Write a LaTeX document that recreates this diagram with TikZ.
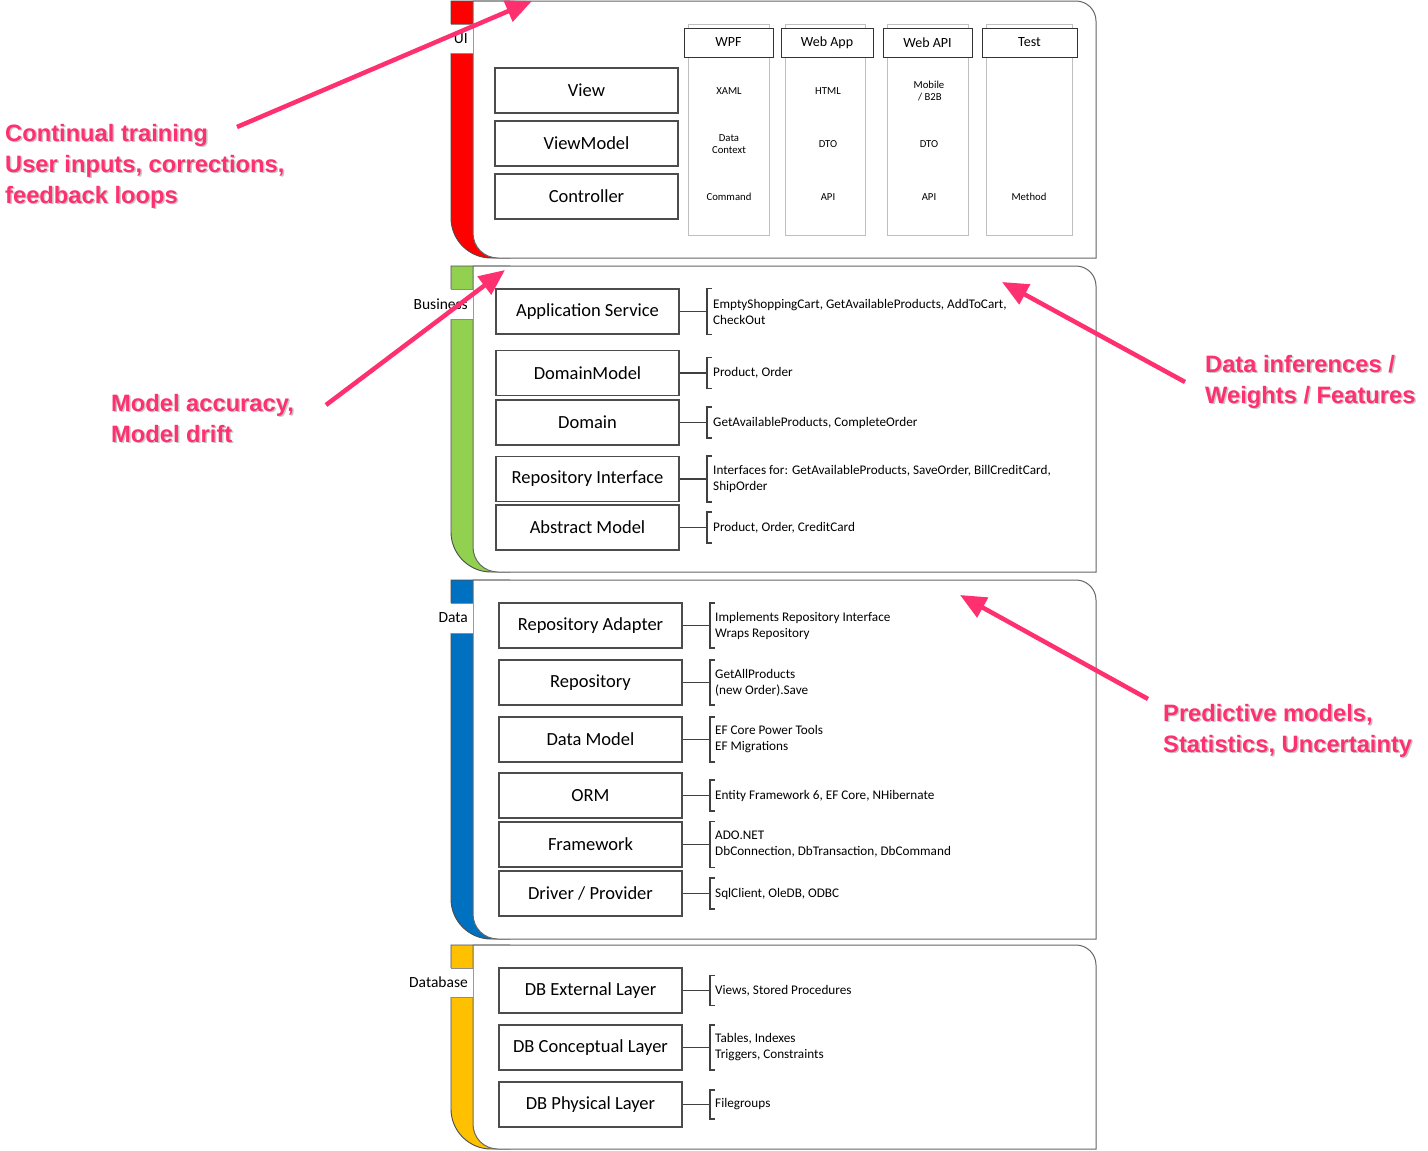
\documentclass[tikz,border=0pt]{standalone}
\usepackage{fontspec}
\setmainfont{Carlito}
\newfontfamily\annot{Liberation Sans}
\usetikzlibrary{arrows.meta}
\definecolor{uired}{RGB}{255,0,0}
\definecolor{bgreen}{RGB}{146,208,80}
\definecolor{dblue}{RGB}{0,112,192}
\definecolor{dbyel}{RGB}{255,192,0}
\definecolor{notepink}{RGB}{255,48,112}
\tikzset{
 lbox/.style={draw=black!70, line width=1.1pt, fill=white, minimum width=183pt, minimum height=45pt, inner sep=0pt, font=\fontsize{18.5}{20}\selectfont},
 brk/.style={anchor=west, minimum width=5pt, inner sep=0pt, outer sep=0pt},
 conn/.style={draw=black!75, line width=1.1pt},
 dtext/.style={anchor=west, inner sep=0pt, align=left, font=\fontsize{13.2}{16}\selectfont},
 lbl/.style={anchor=east, inner sep=0pt, font=\fontsize{15.5}{17}\selectfont},
 hdr/.style={draw=black!80, line width=1pt, fill=white, minimum height=29pt, inner sep=0pt, font=\fontsize{14}{16}\selectfont},
 colbody/.style={draw=black!25, line width=1pt, fill=white},
 ctext/.style={align=center, inner sep=0pt, font=\fontsize{10.7}{12}\selectfont},
 note/.style={anchor=base west, inner sep=0pt, text=notepink, font=\annot\bfseries\fontsize{23.7}{31}\selectfont},
 shad/.style={note, text=black, opacity=0.22},
 parrow/.style={draw=notepink, line width=4.5pt, -{Triangle[length=26pt,width=22pt]}},
 panel/.style={fill=white, draw=black!60, line width=1pt},
}
\newcommand\layerpanel[7]{%
 \filldraw[fill=#1, draw=black!70, line width=0.9pt] (451,#2) -- (510,#2) -- (510,#3) -- (491,#3) .. controls (469,#3) and (451,#3-18) .. (451,#3-40) -- cycle;
 \draw[panel] (473,#2) -- (1076,#2) .. controls (1087,#2) and (1096,#2+9) .. (1096,#2+20) -- (1096,#3) -- (498,#3) .. controls (484,#3) and (473,#3-11) .. (473,#3-25) -- cycle;
 \fill[white] (450.4,#4) rectangle (472.5,#5);
 \draw[black!45, line width=0.6pt] (451,#4) -- (473,#4) (451,#5) -- (473,#5);
 \node[lbl] (#7) at (468,{(#4+#5)/2}) {#6};
}
\newcommand\drow[8]{%
 \node[lbox] (#1) at (#2,#3) {#4};
 \node[brk, minimum height=#6pt] (#1b) at (#5,#3) {};
 \draw[conn] (#1.east) -- (#1b.west);
 \draw[conn] (#1b.north east) -- (#1b.north west) -- (#1b.south west) -- (#1b.south east);
 \node[dtext] (#1t) at ([xshift=#7pt]#1b.west) {#8};
}
\begin{document}
\begin{tikzpicture}[x=1pt,y=-1pt]
\useasboundingbox (0,0) rectangle (1428,1151);
\fill[white] (0,0) rectangle (1428,1151);

% ---------- layers ----------
\layerpanel{uired}{1}{258}{24}{53}{UI}{lui}
\layerpanel{bgreen}{266}{572}{289}{319}{Business}{lbus}
\layerpanel{dblue}{580}{939}{603}{633}{Data}{ldata}
\layerpanel{dbyel}{945}{1149}{968}{997}{Database}{ldb}

% ---------- UI ----------
\node[lbox] (view) at (586.5,90.5) {View};
\node[lbox] (vm) at (586.5,143.5) {ViewModel};
\node[lbox] (ctrl) at (586.5,196.5) {Controller};

\draw[colbody] (688,24) rectangle (769,235);
\draw[colbody] (785,24) rectangle (865,235);
\draw[colbody] (887,24) rectangle (968,235);
\draw[colbody] (986,24) rectangle (1072,235);
\node[hdr, minimum width=89pt] (wpf) at (728.5,42.5) {WPF};
\node[hdr, minimum width=92pt] (webapp) at (827,42.5) {Web App};
\node[hdr, minimum width=89pt] (webapi) at (927.5,42.5) {Web API};
\node[hdr, minimum width=95pt] (test) at (1029.5,42.5) {Test};

\node[ctext] (c11) at (729,91) {XAML};
\node[ctext] (c12) at (729,144) {Data\\Context};
\node[ctext] (c13) at (729,197) {Command};
\node[ctext] (c21) at (828,91) {HTML};
\node[ctext] (c22) at (828,144) {DTO};
\node[ctext] (c23) at (828,197) {API};
\node[ctext] (c31) at (929,91) {Mobile\\\,/ B2B};
\node[ctext] (c32) at (929,144) {DTO};
\node[ctext] (c33) at (929,197) {API};
\node[ctext] (c43) at (1029,197) {Method};

% ---------- Business ----------
\drow{appsvc}{587.5}{311.5}{Application Service}{707}{46}{6}{EmptyShoppingCart, GetAvailableProducts, AddToCart,\\CheckOut}
\drow{dommodel}{587.5}{373}{DomainModel}{707}{31}{6}{Product, Order}
\drow{domain}{587.5}{422.5}{Domain}{707}{31}{6}{GetAvailableProducts, CompleteOrder}
\drow{repoif}{587.5}{479}{Repository Interface}{707}{46}{6}{Interfaces for: GetAvailableProducts, SaveOrder, BillCreditCard,\\ShipOrder}
\drow{absmodel}{587.5}{527.5}{Abstract Model}{707}{31}{6}{Product, Order, CreditCard}

% ---------- Data ----------
\drow{repoad}{590.5}{625.5}{Repository Adapter}{710}{45}{5}{Implements Repository Interface\\Wraps Repository}
\drow{repo}{590.5}{682.5}{Repository}{710}{45}{5}{GetAllProducts\\(new Order).Save}
\drow{datamodel}{590.5}{739.5}{Data Model}{710}{45}{5}{EF Core Power Tools\\EF Migrations}
\drow{orm}{590.5}{795.5}{ORM}{710}{31}{5}{Entity Framework 6, EF Core, NHibernate}
\drow{framework}{590.5}{844.5}{Framework}{710}{46}{5}{ADO.NET\\DbConnection, DbTransaction, DbCommand}
\drow{driver}{590.5}{893.5}{Driver / Provider}{710}{31}{5}{SqlClient, OleDB, ODBC}

% ---------- Database ----------
\drow{dbext}{590.5}{990.5}{DB External Layer}{710}{30}{5}{Views, Stored Procedures}
\drow{dbcon}{590.5}{1047.5}{DB Conceptual Layer}{710}{45}{5}{Tables, Indexes\\Triggers, Constraints}
\drow{dbphys}{590.5}{1104.5}{DB Physical Layer}{710}{29}{5}{Filegroups}

% ---------- annotations ----------
\coordinate (a1s) at (237,127);
\coordinate (a1e) at (532,1);
\coordinate (a2s) at (326,405);
\coordinate (a2e) at (505,270);
\coordinate (a3s) at (1185,382);
\coordinate (a3e) at (1002,282);
\coordinate (a4s) at (1148,699);
\coordinate (a4e) at (960,595);
\draw[parrow] (a1s) -- (a1e);
\draw[parrow] (a2s) -- (a2e);
\draw[parrow] (a3s) -- (a3e);
\draw[parrow] (a4s) -- (a4e);

\node[shad] (s1) at (6.5,142.8) {Continual training};
\node[shad] (s2) at (6.5,173.8) {User inputs, corrections,};
\node[shad] (s3) at (6.5,204.8) {feedback loops};
\node[note] (n1) at (5,141) {Continual training};
\node[note] (n2) at (5,172) {User inputs, corrections,};
\node[note] (n3) at (5,203) {feedback loops};

\node[shad] (s4) at (112.5,412.8) {Model accuracy,};
\node[shad] (s5) at (112.5,443.8) {Model drift};
\node[note] (n4) at (111,411) {Model accuracy,};
\node[note] (n5) at (111,442) {Model drift};

\node[shad] (s6) at (1206.5,373.8) {Data inferences /};
\node[shad] (s7) at (1206.5,404.8) {Weights / Features};
\node[note] (n6) at (1205,372) {Data inferences /};
\node[note] (n7) at (1205,403) {Weights / Features};

\node[shad] (s8) at (1164.5,722.8) {Predictive models,};
\node[shad] (s9) at (1164.5,753.8) {Statistics, Uncertainty};
\node[note] (n8) at (1163,721) {Predictive models,};
\node[note] (n9) at (1163,752) {Statistics, Uncertainty};
\end{tikzpicture}
\end{document}
